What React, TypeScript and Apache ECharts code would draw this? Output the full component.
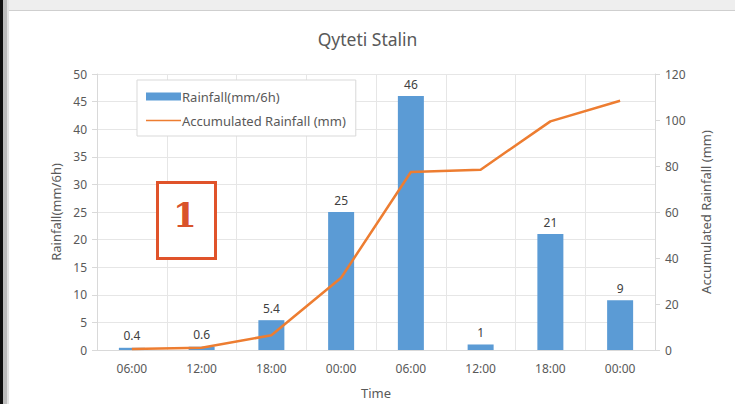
import React, { useEffect, useRef } from "react";
import * as echarts from "echarts";

const categories = ["06:00", "12:00", "18:00", "00:00", "06:00", "12:00", "18:00", "00:00"];
const rainfall = [0.4, 0.6, 5.4, 25, 46, 1, 21, 9];
const accumulated = [0.4, 1.0, 6.4, 31.4, 77.4, 78.4, 99.4, 108.4];

const FONT = "'Noto Sans', 'Open Sans', sans-serif";
const TXT = "#595959";

export default function App() {
  const ref = useRef<HTMLDivElement>(null);
  useEffect(() => {
    document.body.style.margin = "0";
    const chart = echarts.init(ref.current!, null, { renderer: "svg" });
    chart.setOption({
      animation: false,
      backgroundColor: "#ffffff",
      textStyle: { fontFamily: FONT },
      title: {
        text: "Qyteti Stalin",
        left: "center",
        top: 25,
        textStyle: { fontFamily: FONT, fontSize: 17.5, fontWeight: "normal", color: TXT },
      },
      legend: {
        orient: "vertical",
        left: 137,
        top: 80,
        itemGap: 11,
        padding: [10, 10, 9, 9],
        borderColor: "#d9d9d9",
        borderWidth: 1,
        backgroundColor: "#ffffff",
        itemWidth: 35,
        itemHeight: 8,
        textStyle: { fontFamily: FONT, fontSize: 13, color: TXT, padding: [0, 0, 0, -4] },
        data: [
          { name: "Rainfall(mm/6h)", icon: "rect" },
          { name: "Accumulated Rainfall (mm)", icon: "path://M0,3.3L34,3.3L34,4.7L0,4.7Z" },
        ],
      },
      grid: { left: 97, right: 80, top: 74, bottom: 54 },
      xAxis: {
        type: "category",
        data: categories,
        name: "Time",
        nameLocation: "middle",
        nameGap: 36,
        nameTextStyle: { fontFamily: FONT, fontSize: 13, color: TXT },
        axisLine: { lineStyle: { color: "#d9d9d9" } },
        axisTick: { show: false },
        axisLabel: { fontFamily: FONT, fontSize: 12, color: TXT, margin: 12 },
        splitLine: { show: true, lineStyle: { color: "#e6e6e6" } },
      },
      yAxis: [
        {
          type: "value",
          min: 0,
          max: 50,
          interval: 5,
          name: "Rainfall(mm/6h)",
          nameLocation: "middle",
          nameGap: 32,
          nameTextStyle: { fontFamily: FONT, fontSize: 13, color: TXT },
          axisLine: { show: true, lineStyle: { color: "#d9d9d9" } },
          axisTick: { show: true, length: 5, lineStyle: { color: "#d9d9d9" } },
          axisLabel: { fontFamily: FONT, fontSize: 12, color: TXT, margin: 10 },
          splitLine: { show: true, lineStyle: { color: "#e6e6e6" } },
        },
        {
          type: "value",
          min: 0,
          max: 120,
          interval: 20,
          position: "right",
          name: "Accumulated Rainfall (mm)",
          nameLocation: "middle",
          nameGap: 44,
          nameRotate: 90,
          nameTextStyle: { fontFamily: FONT, fontSize: 13, color: TXT },
          axisLine: { show: true, lineStyle: { color: "#d9d9d9" } },
          axisTick: { show: true, length: 5, lineStyle: { color: "#d9d9d9" } },
          axisLabel: { fontFamily: FONT, fontSize: 12, color: TXT, margin: 10 },
          splitLine: { show: false },
        },
      ],
      series: [
        {
          name: "Rainfall(mm/6h)",
          type: "bar",
          data: rainfall,
          barWidth: 26,
          yAxisIndex: 0,
          itemStyle: { color: "#5b9bd5" },
          label: {
            show: true,
            position: "top",
            distance: 6,
            fontFamily: FONT,
            fontSize: 12,
            color: "#404040",
          },
        },
        {
          name: "Accumulated Rainfall (mm)",
          type: "line",
          data: accumulated,
          yAxisIndex: 1,
          symbol: "none",
          itemStyle: { color: "#ed7d31" },
          lineStyle: { color: "#ed7d31", width: 2.5 },
        },
      ],
      graphic: [
        { type: "rect", left: 0, top: 0, shape: { width: 735, height: 10 }, style: { fill: "#eeeeee" }, silent: true },
        { type: "rect", left: 0, top: 10, shape: { width: 735, height: 1 }, style: { fill: "#cfcfcf" }, silent: true },
        { type: "rect", left: 0, top: 0, shape: { width: 3, height: 404 }, style: { fill: "#111111" }, silent: true },
        { type: "rect", left: 3, top: 0, shape: { width: 4, height: 404 }, style: { fill: "#bdbdbd" }, silent: true },
        { type: "rect", left: 7, top: 0, shape: { width: 2, height: 404 }, style: { fill: "#e4e4e4" }, silent: true },
        {
          type: "rect",
          left: 156,
          top: 181,
          shape: { width: 58, height: 76 },
          style: { fill: "#ffffff", stroke: "#e0532a", lineWidth: 3 },
          z: 100,
        },
        {
          type: "text",
          left: 173,
          top: 198,
          style: {
            text: "1",
            fontFamily: "'DejaVu Serif', 'Liberation Serif', serif",
            fontSize: 34,
            fontWeight: "bold",
            fill: "#d9532b",
          },
          z: 101,
        },
      ],
    });
    return () => chart.dispose();
  }, []);
  return <div ref={ref} style={{ width: 735, height: 404 }} />;
}
